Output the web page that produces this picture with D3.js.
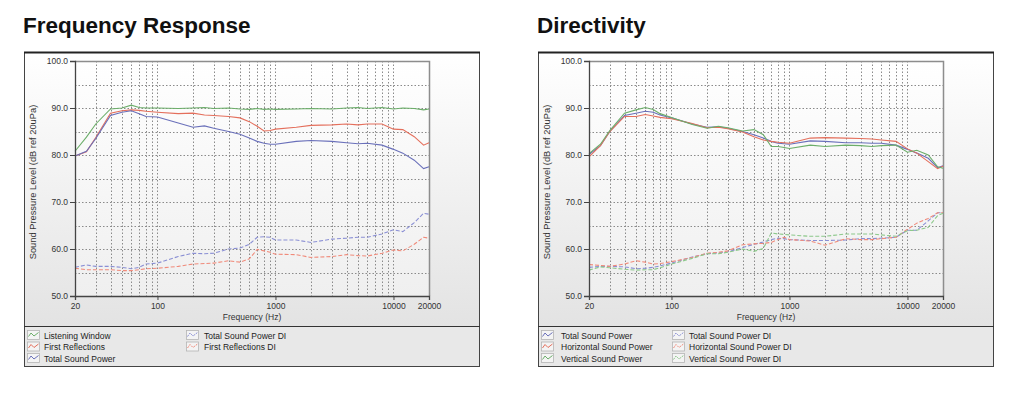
<!DOCTYPE html>
<html>
<head>
<meta charset="utf-8">
<script src="https://cdn.jsdelivr.net/npm/d3@7"></script>
<style>
  body { margin: 0; background: #fff; }
  svg { display: block; }
</style>
</head>
<body>
<script>
// 频率点（Hz）
var freqs = [20, 25, 30, 40, 50, 60, 70, 80, 100, 150, 200, 250, 300, 400, 500, 600, 700, 800, 900, 1000,
  1500, 2000, 3000, 4000, 5000, 6000, 8000, 10000, 12000, 15000, 18000, 20000];

// Frequency Response
var listeningWindow = [80.8, 83.8, 86.6, 89.8, 90.0, 90.6, 90.1, 90.0, 90.0, 89.9, 90.0, 90.1, 89.9, 90.0, 89.8, 89.7,
  89.9, 89.7, 89.8, 89.7, 89.8, 89.9, 89.8, 90.0, 90.1, 89.9, 90.1, 89.8, 90.0, 89.9, 89.6, 89.8];
var firstReflections = [79.8, 80.7, 83.7, 88.9, 89.4, 89.6, 89.5, 89.3, 89.1, 88.8, 88.9, 88.5, 88.4, 88.2, 87.9, 87.1,
  86.1, 85.1, 85.2, 85.5, 85.9, 86.3, 86.4, 86.6, 86.4, 86.6, 86.6, 85.5, 85.4, 83.9, 82.1, 82.6];
var totalSoundPower = [79.8, 80.8, 83.5, 88.4, 89.1, 89.4, 88.8, 88.2, 88.1, 86.8, 85.9, 86.2, 85.7, 85.0, 84.4, 83.6,
  82.9, 82.5, 82.3, 82.3, 82.9, 83.1, 82.9, 82.6, 82.4, 82.5, 82.1, 81.2, 80.4, 78.9, 77.1, 77.5];
var totalSoundPowerDI = [56.1, 56.6, 56.3, 56.3, 56.1, 55.8, 56.1, 56.8, 57.0, 58.4, 59.1, 59.0, 59.1, 60.0, 60.2, 61.0,
  62.5, 62.6, 62.5, 61.9, 61.9, 61.4, 62.1, 62.3, 62.5, 62.5, 63.2, 64.1, 63.7, 65.6, 67.6, 67.4];
var firstReflectionsDI = [55.9, 55.6, 55.6, 55.6, 55.4, 55.4, 55.6, 55.8, 55.9, 56.3, 56.8, 56.9, 57.0, 57.5, 57.2, 57.9,
  59.9, 59.6, 59.3, 58.9, 58.8, 58.2, 58.4, 58.8, 58.6, 58.5, 59.1, 59.8, 59.6, 61.0, 62.5, 62.3];

// Directivity
var dirTotal = [80.1, 82.0, 85.0, 88.4, 88.9, 89.3, 89.1, 88.5, 87.9, 86.6, 85.9, 86.0, 85.7, 85.0, 84.3, 83.6,
  82.9, 82.5, 82.4, 82.3, 83.0, 82.9, 82.6, 82.6, 82.5, 82.5, 82.1, 81.2, 80.4, 79.3, 77.3, 77.7];
var dirHorizontal = [79.6, 82.0, 85.0, 88.2, 88.2, 88.6, 88.3, 88.0, 87.7, 86.7, 85.8, 85.9, 85.6, 84.9, 83.9, 83.2,
  82.9, 82.7, 82.6, 82.5, 83.6, 83.7, 83.6, 83.5, 83.4, 83.2, 82.9, 81.3, 80.4, 78.6, 77.1, 77.6];
var dirVertical = [80.3, 82.3, 85.2, 88.9, 89.6, 90.1, 89.7, 88.8, 88.0, 86.5, 85.7, 86.1, 85.8, 85.1, 85.4, 84.3,
  81.8, 81.8, 81.6, 81.4, 82.1, 81.8, 82.1, 82.0, 81.8, 82.0, 82.1, 80.6, 81.0, 80.0, 77.5, 77.2];
var dirTotalDI = [56.1, 56.3, 56.3, 56.2, 55.8, 55.9, 56.1, 56.4, 57.0, 58.3, 59.0, 59.2, 59.4, 60.3, 61.0, 61.5,
  62.0, 62.3, 62.2, 62.0, 61.8, 61.8, 61.9, 62.2, 62.2, 62.3, 62.5, 64.0, 64.0, 66.0, 67.7, 67.7];
var dirHorizontalDI = [56.7, 56.5, 56.3, 56.8, 57.5, 57.2, 56.8, 56.9, 57.3, 58.2, 59.1, 59.3, 59.6, 60.9, 61.1, 61.2,
  61.4, 62.0, 62.5, 62.0, 61.7, 60.8, 62.2, 62.0, 62.0, 62.2, 62.5, 64.2, 65.5, 66.5, 67.7, 67.7];
var dirVerticalDI = [55.5, 56.2, 56.0, 55.7, 55.5, 55.6, 55.6, 56.0, 56.8, 58.0, 59.0, 59.0, 59.3, 60.0, 59.5, 60.1,
  63.4, 63.2, 63.1, 63.0, 62.7, 62.7, 63.2, 63.2, 63.2, 63.0, 62.7, 63.9, 64.0, 64.6, 67.1, 67.6];

// 刻度
var yTicks = [50, 60, 70, 80, 90, 100];
var yGrid = [55, 60, 65, 70, 75, 80, 85, 90, 95];
var xTicks = [20, 100, 1000, 10000, 20000];

// 颜色
var GREEN = "#6cae6a", RED = "#e46f5c", BLUE = "#6a70ba";
var GREEN_D = "#8cc88a", RED_D = "#f08a7a", BLUE_D = "#8a8fd4";

var W = 1011, H = 401;
var svg = d3.select("body").append("svg").attr("width", W).attr("height", H);

var defs = svg.append("defs");
var g1 = defs.append("linearGradient").attr("id", "panelBg").attr("x1", 0).attr("y1", 0).attr("x2", 0).attr("y2", 1);
g1.append("stop").attr("offset", "0%").attr("stop-color", "#ffffff");
g1.append("stop").attr("offset", "100%").attr("stop-color", "#e3e3e3");
var g2 = defs.append("linearGradient").attr("id", "plotBg").attr("x1", 0).attr("y1", 0).attr("x2", 0).attr("y2", 1);
g2.append("stop").attr("offset", "0%").attr("stop-color", "#ffffff");
g2.append("stop").attr("offset", "100%").attr("stop-color", "#efefef");

var lineGen = function (x, y) {
  return d3.line()
    .x(function (d) { return x(d.f); })
    .y(function (d) { return y(d.v); });
};

function drawPanel(p) {
  var fx = p.left, fy = 52, fw = 456, fh = 315;
  var legendTop = fy + 274;
  var g = svg.append("g");

  // 标题
  svg.append("text")
    .attr("x", p.left - 1).attr("y", 33)
    .attr("font-family", "Liberation Sans, Arial, sans-serif")
    .attr("font-weight", "bold").attr("font-size", "22.5px").attr("fill", "#111")
    .text(p.title);

  // 面板背景与边框
  g.append("rect").attr("x", fx).attr("y", fy).attr("width", fw).attr("height", legendTop - fy)
    .attr("fill", "url(#panelBg)");
  g.append("rect").attr("x", fx).attr("y", legendTop).attr("width", fw).attr("height", fy + fh - legendTop)
    .attr("fill", "#e8e8e8");
  g.append("rect").attr("x", fx + 0.5).attr("y", fy + 0.5).attr("width", fw - 1).attr("height", fh - 1)
    .attr("fill", "none").attr("stroke", "#444").attr("stroke-width", 1);
  g.append("line").attr("x1", fx).attr("x2", fx + fw).attr("y1", fy + 0.5).attr("y2", fy + 0.5)
    .attr("stroke", "#222").attr("stroke-width", 2);
  g.append("line").attr("x1", fx).attr("x2", fx + fw).attr("y1", legendTop + 0.5).attr("y2", legendTop + 0.5)
    .attr("stroke", "#333").attr("stroke-width", 1.2);

  // 比例尺
  var x0 = fx + 51, x1 = x0 + 354;
  var x = d3.scaleLog().domain([20, 20000]).range([x0, x1]);
  var y = d3.scaleLinear().domain([50, 100]).range([296, 61]);

  g.append("rect").attr("x", x0).attr("y", y(100)).attr("width", x1 - x0).attr("height", y(50) - y(100))
    .attr("fill", "url(#plotBg)");

  // 网格
  var vGrid = [];
  [10, 100, 1000].forEach(function (dec) {
    for (var k = 1; k <= 9; k++) {
      var f = dec * k;
      if (f > 20 && f < 20000) vGrid.push(f);
    }
  });
  vGrid.push(10000);
  g.selectAll(".vg").data(vGrid).enter().append("line")
    .attr("x1", function (d) { return Math.round(x(d)) + 0.5; })
    .attr("x2", function (d) { return Math.round(x(d)) + 0.5; })
    .attr("y1", y(100)).attr("y2", y(50))
    .attr("stroke", "#8a8a8a").attr("stroke-width", 1).attr("stroke-dasharray", "1.5,2");
  g.selectAll(".hg").data(yGrid).enter().append("line")
    .attr("x1", x0).attr("x2", x1)
    .attr("y1", function (d) { return Math.round(y(d)) + 0.5; })
    .attr("y2", function (d) { return Math.round(y(d)) + 0.5; })
    .attr("stroke", "#8a8a8a").attr("stroke-width", 1).attr("stroke-dasharray", "1.5,2");

  // 外框（上、右）
  g.append("path")
    .attr("d", "M" + x0 + "," + (y(100) + 0.5) + "H" + (x1 + 0.5) + "V" + y(50))
    .attr("fill", "none").attr("stroke", "#8d8d8d").attr("stroke-width", 1.5);

  // 曲线
  var line = lineGen(x, y);
  p.series.forEach(function (s) {
    var pts = freqs.map(function (f, i) { return { f: f, v: s.values[i] }; });
    g.append("path").datum(pts)
      .attr("d", line)
      .attr("fill", "none")
      .attr("stroke", s.color)
      .attr("stroke-width", 1.1)
      .attr("stroke-dasharray", s.dashed ? "4,2" : null);
  });

  // 坐标轴
  var yAxis = d3.axisLeft(y).tickValues(yTicks).tickSize(5).tickPadding(2)
    .tickFormat(d3.format(".1f"));
  var gy = g.append("g").attr("transform", "translate(" + x0 + ",0)").call(yAxis);
  var xAxis = d3.axisBottom(x).tickValues(xTicks).tickSize(4).tickPadding(3)
    .tickFormat(d3.format("d"));
  var gx = g.append("g").attr("transform", "translate(0," + y(50) + ")").call(xAxis);
  [gx, gy].forEach(function (ax) {
    ax.select(".domain").attr("stroke", "#444").attr("stroke-width", 1.3);
    ax.selectAll(".tick line").attr("stroke", "#444");
    ax.selectAll(".tick text").attr("fill", "#333")
      .attr("font-family", "Liberation Sans, Arial, sans-serif").attr("font-size", "8.5px");
  });

  // 轴标题
  g.append("text")
    .attr("x", (x0 + x1) / 2).attr("y", 320)
    .attr("text-anchor", "middle")
    .attr("font-family", "Liberation Sans, Arial, sans-serif").attr("font-size", "8.5px").attr("fill", "#333")
    .text("Frequency (Hz)");
  g.append("text")
    .attr("transform", "translate(" + (fx + 12) + "," + 182 + ") rotate(-90)")
    .attr("text-anchor", "middle")
    .attr("font-family", "Liberation Sans, Arial, sans-serif").attr("font-size", "9.3px").attr("fill", "#333")
    .text("Sound Pressure Level (dB ref 20uPa)");

  // 图例
  p.series.forEach(function (s, i) {
    var col = i < p.perCol ? 0 : 1;
    var row = i < p.perCol ? i : i - p.perCol;
    var ix = fx + p.legendX[col], iy = legendTop + 4 + row * 11.5;
    var lg = g.append("g").attr("transform", "translate(" + ix + "," + iy + ")");
    lg.append("rect").attr("x", 0.5).attr("y", 0.5).attr("width", 12).attr("height", 9)
      .attr("fill", "#f4f4f4").attr("stroke", "#b5b5b5").attr("stroke-width", 0.8);
    lg.append("path").attr("d", "M1.5,6.5 L4,3 L7,6 L11.5,2.5")
      .attr("fill", "none").attr("stroke", s.color).attr("stroke-width", 1)
      .attr("stroke-dasharray", s.dashed ? "2,1" : null);
    lg.append("text").attr("x", p.legendText[col] - p.legendX[col]).attr("y", 8.5)
      .attr("font-family", "Liberation Sans, Arial, sans-serif").attr("font-size", "8.5px").attr("fill", "#222")
      .text(s.name);
  });
}

drawPanel({
  left: 24,
  title: "Frequency Response",
  perCol: 3,
  legendX: [3, 162],
  legendText: [20, 180],
  series: [
    { name: "Listening Window", values: listeningWindow, color: GREEN },
    { name: "First Reflections", values: firstReflections, color: RED },
    { name: "Total Sound Power", values: totalSoundPower, color: BLUE },
    { name: "Total Sound Power DI", values: totalSoundPowerDI, color: BLUE_D, dashed: true },
    { name: "First Reflections DI", values: firstReflectionsDI, color: RED_D, dashed: true }
  ]
});

drawPanel({
  left: 538,
  title: "Directivity",
  perCol: 3,
  legendX: [3, 134],
  legendText: [23, 151],
  series: [
    { name: "Total Sound Power", values: dirTotal, color: BLUE },
    { name: "Horizontal Sound Power", values: dirHorizontal, color: RED },
    { name: "Vertical Sound Power", values: dirVertical, color: GREEN },
    { name: "Total Sound Power DI", values: dirTotalDI, color: BLUE_D, dashed: true },
    { name: "Horizontal Sound Power DI", values: dirHorizontalDI, color: RED_D, dashed: true },
    { name: "Vertical Sound Power DI", values: dirVerticalDI, color: GREEN_D, dashed: true }
  ]
});
</script>
</body>
</html>
